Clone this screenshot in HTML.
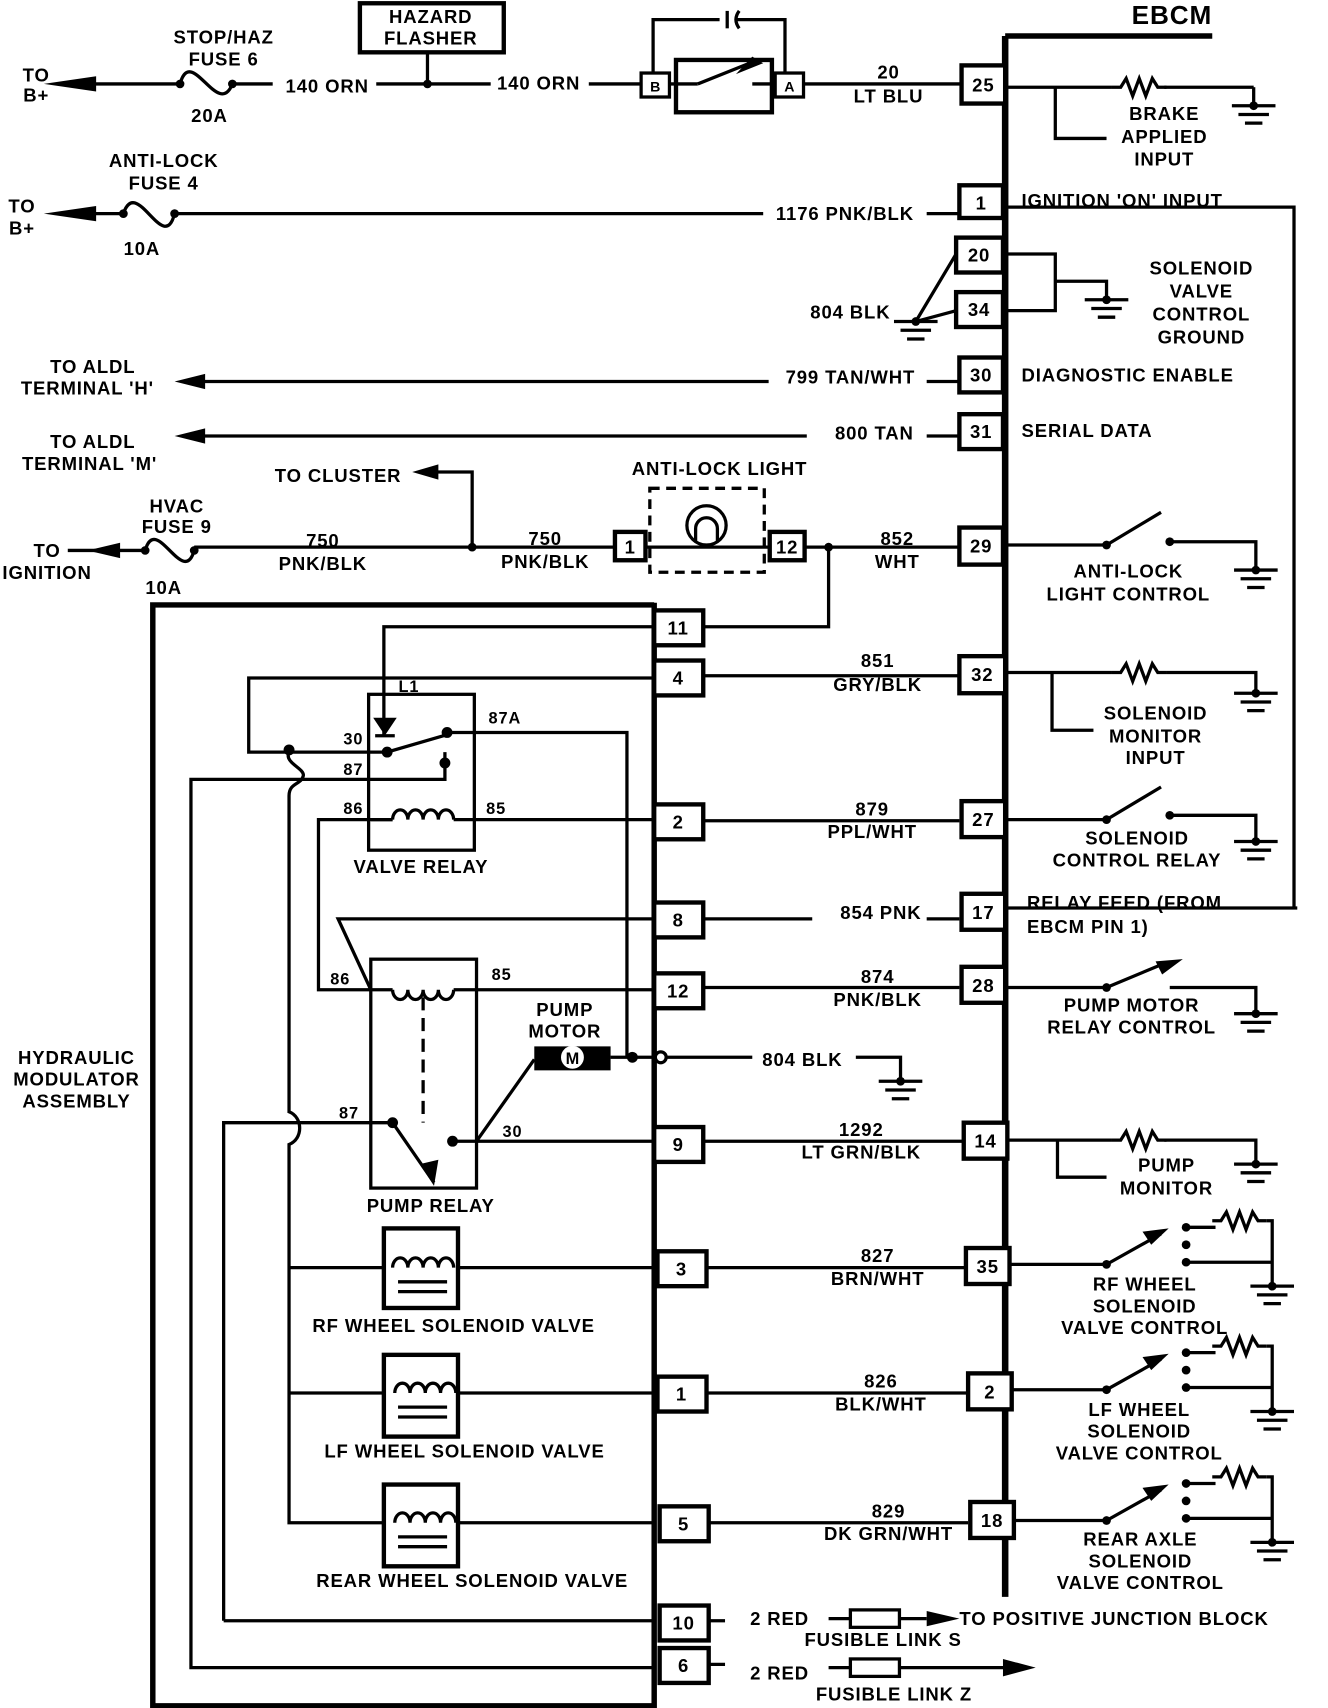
<!DOCTYPE html>
<html><head><meta charset="utf-8"><style>
html,body{margin:0;padding:0;background:#fff}
svg{display:block}
text{font-family:"Liberation Sans",sans-serif;font-weight:bold;font-size:17px;fill:#000;text-anchor:middle;letter-spacing:0.8px}
.l{text-anchor:start}
</style></head><body>
<svg width="1328" height="1708" viewBox="0 0 1218 1567" xmlns="http://www.w3.org/2000/svg">
<defs>
<g id="gnd"><line x1="-20" y1="0" x2="20" y2="0" stroke="#000" stroke-width="3"/><line x1="-14" y1="8" x2="14" y2="8" stroke="#000" stroke-width="3"/><line x1="-8" y1="16" x2="8" y2="16" stroke="#000" stroke-width="3"/><circle cx="0" cy="0" r="4"/></g>
<path id="res" d="M0 0 L8 0 L13 -8 L19 8 L25 -8 L31 8 L37 -8 L42 0 L50 0" fill="none" stroke="#000" stroke-width="3"/>
<path id="coil" d="M0 0 a7 9 0 0 1 14 0 a7 9 0 0 1 14 0 a7 9 0 0 1 14 0 a7 9 0 0 1 14 0" fill="none" stroke="#000" stroke-width="3"/>
</defs>
<g stroke="#000" stroke-width="3" fill="none">
<line x1="922" y1="33" x2="922" y2="1465" stroke-width="6"/>
<line x1="922" y1="33" x2="1112" y2="33" stroke-width="5"/>
<line x1="62" y1="77" x2="165" y2="77"/>
<path d="M165 77 C175 40 200 110 213 77"/>
<line x1="213" y1="77" x2="250" y2="77"/>
<line x1="345" y1="77" x2="450" y2="77"/>
<line x1="392" y1="77" x2="392" y2="48"/>
<rect x="330" y="3" width="132" height="45" stroke-width="4"/>
<line x1="540" y1="77" x2="588" y2="77"/>
<rect x="588" y="67" width="26" height="22" stroke-width="3"/>
<rect x="620" y="55" width="88" height="48" stroke-width="4"/>
<rect x="711" y="67" width="26" height="22" stroke-width="3"/>
<line x1="614" y1="77" x2="640" y2="77"/><line x1="640" y1="77" x2="690" y2="57"/><line x1="690" y1="77" x2="711" y2="77"/>
<path d="M599 67 V18 H660 M676 18 H720 V67"/>
<line x1="667" y1="10" x2="667" y2="26"/><path d="M678 10 Q672 18 678 26"/>
<line x1="737" y1="77" x2="882" y2="77"/>
<line x1="922" y1="80" x2="1020" y2="80"/><line x1="1068" y1="80" x2="1150" y2="80"/><line x1="1150" y1="80" x2="1150" y2="97"/>
<path d="M968 80 V127 H1015"/>
<line x1="62" y1="196" x2="113" y2="196"/>
<path d="M113 196 C125 160 150 235 160 196"/>
<line x1="160" y1="196" x2="700" y2="196"/>
<line x1="850" y1="196" x2="880" y2="196"/>
<path d="M922 190 H1187 V833"/>
<path d="M920 233 H968 V285 H920"/>
<path d="M968 258 H1015 V275"/>
<path d="M877 233 L840 295 L877 285"/>
<line x1="175" y1="350" x2="705" y2="350"/><line x1="850" y1="350" x2="880" y2="350"/>
<line x1="175" y1="400" x2="740" y2="400"/><line x1="850" y1="400" x2="880" y2="400"/>
<line x1="62" y1="505" x2="133" y2="505"/>
<path d="M133 505 C143 470 168 540 178 505"/>
<line x1="178" y1="502" x2="564" y2="502"/>
<path d="M433 502 V433 H395"/>
<rect x="564" y="488" width="28" height="26" stroke-width="4"/>
<rect x="596" y="448" width="105" height="77" stroke-width="3" stroke-dasharray="9 6"/>
<line x1="592" y1="502" x2="706" y2="502"/>
<circle cx="648" cy="482" r="18"/><path d="M638 497 V485 a10 10 0 0 1 20 0 V497"/>
<rect x="706" y="488" width="32" height="26" stroke-width="4"/>
<line x1="738" y1="502" x2="880" y2="502"/>
<path d="M760 502 V575 H600"/>
<path d="M600 555 H140 V1565 H600 V553" stroke-width="5"/>
<path d="M600 575 H352 V675"/>
<path d="M345 660 h16 l-8 12z" fill="#000"/><line x1="344" y1="675" x2="362" y2="675"/>
<path d="M600 622 H228 V690 H355 L410 674"/>
<path d="M410 672 H575 V970"/>
<rect x="338" y="637" width="97" height="143"/>
<path d="M408 690 V715 H175 V1530 H600"/>
<path d="M340 752 H360 M416 752 H600"/>
<use href="#coil" x="360" y="752"/>
<path d="M360 752 H292 V908 H360"/>
<path d="M600 843 H310 L340 908"/>
<rect x="340" y="880" width="97" height="210"/>
<path d="M360 908 a7 9 0 0 0 14 0 a7 9 0 0 0 14 0 a7 9 0 0 0 14 0 a7 9 0 0 0 14 0"/>
<line x1="416" y1="908" x2="600" y2="908"/>
<line x1="388" y1="915" x2="388" y2="1030" stroke-dasharray="12 7"/>
<path d="M205 1487 V1030 H360 L398 1085"/>
<path d="M415 1047 H600 M437 1047 L490 972"/>
<path d="M560 970 H600"/><circle cx="606" cy="970" r="5"/><line x1="611" y1="970" x2="690" y2="970"/>
<path d="M785 970 H826 V990"/>
<path d="M205 1487 H600"/>
<path d="M265 690 C260 700 280 705 278 712 C276 720 265 718 265 730 V1020 C278 1025 278 1045 265 1050 V1397 H352"/>
<line x1="265" y1="1163" x2="352" y2="1163"/><line x1="420" y1="1163" x2="600" y2="1163"/>
<line x1="265" y1="1278" x2="352" y2="1278"/><line x1="420" y1="1278" x2="600" y2="1278"/>
<line x1="420" y1="1397" x2="600" y2="1397"/>
<rect x="352" y="1127" width="68" height="73" stroke-width="4"/>
<rect x="352" y="1243" width="68" height="75" stroke-width="4"/>
<rect x="352" y="1362" width="68" height="75" stroke-width="4"/>
<line x1="645" y1="620" x2="880" y2="620"/>
<line x1="645" y1="753" x2="880" y2="753"/>
<line x1="645" y1="843" x2="745" y2="843"/><line x1="850" y1="843" x2="880" y2="843"/>
<line x1="645" y1="906" x2="880" y2="906"/>
<line x1="645" y1="1047" x2="884" y2="1047"/>
<line x1="645" y1="1163" x2="886" y2="1163"/>
<line x1="645" y1="1278" x2="888" y2="1278"/>
<line x1="645" y1="1397" x2="888" y2="1397"/>
<line x1="645" y1="1487" x2="665" y2="1487"/><line x1="760" y1="1485" x2="780" y2="1485"/><rect x="780" y="1477" width="45" height="16"/><line x1="825" y1="1485" x2="850" y2="1485"/>
<line x1="645" y1="1527" x2="665" y2="1527"/><line x1="760" y1="1530" x2="780" y2="1530"/><rect x="780" y="1522" width="45" height="16"/><line x1="825" y1="1530" x2="925" y2="1530"/>
<path d="M922 500 H1015 L1065 470 M1073 497 H1152 V523"/>
<path d="M922 617 H1020 M1070 617 H1152 V636 M965 617 V670 H1003"/>
<path d="M922 752 H1015 L1065 722 M1073 748 H1152 V772"/>
<path d="M922 833 H1190"/>
<path d="M922 906 H1015 L1070 883 M1073 906 H1152 V930"/>
<path d="M922 1046 H1020 M1068 1046 H1152 V1068 M970 1046 V1080 H1015"/>
</g>
<g fill="#000">
<path d="M40 77 L88 70 L88 84 Z"/><path d="M40 196 L88 189 L88 203 Z"/><path d="M80 505 L110 498 L110 512 Z"/>
<path d="M160 350 L188 343 L188 357 Z"/><path d="M160 400 L188 393 L188 407 Z"/><path d="M378 433 L402 426 L402 440 Z"/>
<circle cx="165" cy="77" r="4"/><circle cx="213" cy="77" r="4"/><circle cx="392" cy="77" r="4"/>
<circle cx="113" cy="196" r="4"/><circle cx="160" cy="196" r="4"/><circle cx="133" cy="505" r="4"/><circle cx="178" cy="505" r="4"/>
<circle cx="433" cy="502" r="4"/><circle cx="760" cy="502" r="4"/>
<circle cx="265" cy="688" r="5"/><circle cx="355" cy="690" r="5"/><circle cx="410" cy="672" r="5"/><circle cx="408" cy="700" r="5"/>
<circle cx="360" cy="1030" r="5"/><circle cx="415" cy="1047" r="5"/><circle cx="580" cy="970" r="5"/>
<path d="M398 1088 L385 1068 L402 1064 Z"/>
<rect x="490" y="960" width="70" height="22"/>
<path d="M690 52 L675 68 L700 58 Z"/>
<path d="M880 1485 L850 1478 L850 1492 Z"/><path d="M950 1530 L920 1522 L920 1538 Z"/>
<circle cx="1015" cy="500" r="4"/><circle cx="1073" cy="497" r="4"/>
<circle cx="1015" cy="752" r="4"/><circle cx="1073" cy="748" r="4"/>
<circle cx="1015" cy="906" r="4"/><path d="M1085 880 L1060 882 L1066 894 Z"/>
</g>
<circle cx="525" cy="970" r="10" fill="#fff" stroke="#fff"/><text x="525" y="976" style="font-size:15px;letter-spacing:0">M</text>
<use href="#res" x="1020" y="80"/><use href="#res" x="1020" y="617"/><use href="#res" x="1020" y="1046"/>
<use href="#coil" x="360" y="1163"/><use href="#coil" x="362" y="1278"/><use href="#coil" x="362" y="1397"/>
<g stroke="#000" stroke-width="3"><line x1="365" y1="1176" x2="410" y2="1176"/><line x1="365" y1="1185" x2="410" y2="1185"/><line x1="365" y1="1291" x2="410" y2="1291"/><line x1="365" y1="1300" x2="410" y2="1300"/><line x1="365" y1="1410" x2="410" y2="1410"/><line x1="365" y1="1419" x2="410" y2="1419"/></g>
<use href="#gnd" x="1150" y="97"/><use href="#gnd" x="1015" y="275"/><use href="#gnd" x="840" y="295"/>
<use href="#gnd" x="1152" y="523"/><use href="#gnd" x="1152" y="636"/><use href="#gnd" x="1152" y="772"/>
<use href="#gnd" x="1152" y="930"/><use href="#gnd" x="1152" y="1068"/><use href="#gnd" x="826" y="992"/>
<g id="sw3">
<path d="M922 1160 H1015 L1065 1132" stroke="#000" stroke-width="3" fill="none"/>
<path d="M1072 1127 L1048 1130 L1056 1142 Z"/>
<circle cx="1015" cy="1160" r="4"/><circle cx="1088" cy="1126" r="4"/><circle cx="1088" cy="1142" r="4"/><circle cx="1088" cy="1158" r="4"/>
<path d="M1088 1126 H1115" stroke="#000" stroke-width="3"/>
<use href="#res" x="1112" y="1120"/>
<path d="M1162 1120 H1167 V1178 M1088 1158 H1167" stroke="#000" stroke-width="3" fill="none"/>
<use href="#gnd" x="1167" y="1180"/>
</g>
<use href="#sw3" y="115"/><use href="#sw3" y="235"/>
<g stroke="#000" stroke-width="4" fill="#fff">
<rect x="882" y="60" width="40" height="35"/><rect x="880" y="170" width="40" height="30"/><rect x="877" y="218" width="43" height="32"/><rect x="877" y="268" width="43" height="32"/>
<rect x="880" y="328" width="40" height="32"/><rect x="880" y="380" width="40" height="32"/><rect x="880" y="484" width="40" height="34"/>
<rect x="880" y="602" width="42" height="34"/><rect x="882" y="735" width="40" height="33"/><rect x="882" y="820" width="40" height="33"/>
<rect x="882" y="887" width="40" height="33"/><rect x="884" y="1030" width="40" height="33"/><rect x="886" y="1145" width="40" height="33"/>
<rect x="888" y="1260" width="40" height="33"/><rect x="890" y="1378" width="40" height="33"/>
<rect x="600" y="560" width="45" height="32"/><rect x="600" y="606" width="45" height="32"/><rect x="600" y="738" width="45" height="32"/>
<rect x="600" y="828" width="45" height="32"/><rect x="600" y="893" width="45" height="32"/><rect x="600" y="1034" width="45" height="32"/>
<rect x="603" y="1148" width="45" height="32"/><rect x="603" y="1263" width="45" height="32"/><rect x="605" y="1382" width="45" height="32"/>
<rect x="605" y="1473" width="45" height="32"/><rect x="605" y="1512" width="45" height="32"/>
</g>
<g>
<text x="902" y="84">25</text><text x="900" y="192">1</text><text x="898" y="240">20</text><text x="898" y="290">34</text>
<text x="900" y="350">30</text><text x="900" y="402">31</text><text x="900" y="507">29</text><text x="901" y="625">32</text>
<text x="902" y="758">27</text><text x="902" y="843">17</text><text x="902" y="910">28</text><text x="904" y="1053">14</text>
<text x="906" y="1168">35</text><text x="908" y="1283">2</text><text x="910" y="1401">18</text>
<text x="622" y="582">11</text><text x="622" y="628">4</text><text x="622" y="760">2</text><text x="622" y="850">8</text>
<text x="622" y="915">12</text><text x="622" y="1056">9</text><text x="625" y="1170">3</text><text x="625" y="1285">1</text>
<text x="627" y="1404">5</text><text x="627" y="1495">10</text><text x="627" y="1534">6</text>
<text x="601" y="84" style="font-size:13px;letter-spacing:0">B</text><text x="724" y="84" style="font-size:13px;letter-spacing:0">A</text>
<text x="578" y="508">1</text><text x="722" y="508">12</text>

<text x="1075" y="22" style="font-size:24px">EBCM</text>
<text x="33" y="75">TO</text><text x="33" y="93">B+</text>
<text x="205" y="40">STOP/HAZ</text><text x="205" y="60">FUSE 6</text><text x="192" y="112">20A</text>
<text x="300" y="85">140 ORN</text><text x="494" y="82">140 ORN</text>
<text x="395" y="21">HAZARD</text><text x="395" y="41">FLASHER</text>
<text x="815" y="72">20</text><text x="815" y="94">LT BLU</text>
<text x="1068" y="110">BRAKE</text><text x="1068" y="131">APPLIED</text><text x="1068" y="152">INPUT</text>
<text x="150" y="153">ANTI-LOCK</text><text x="150" y="174">FUSE 4</text><text x="130" y="234">10A</text>
<text x="20" y="195">TO</text><text x="20" y="215">B+</text>
<text x="775" y="202">1176 PNK/BLK</text>
<text class="l" x="937" y="190">IGNITION 'ON' INPUT</text>
<text x="1102" y="252">SOLENOID</text><text x="1102" y="273">VALVE</text><text x="1102" y="294">CONTROL</text><text x="1102" y="315">GROUND</text>
<text x="780" y="292">804 BLK</text>
<text x="85" y="342">TO ALDL</text><text x="80" y="362">TERMINAL 'H'</text>
<text x="780" y="352">799 TAN/WHT</text><text class="l" x="937" y="350">DIAGNOSTIC ENABLE</text>
<text x="85" y="411">TO ALDL</text><text x="82" y="431">TERMINAL 'M'</text>
<text x="802" y="403">800 TAN</text><text class="l" x="937" y="401">SERIAL DATA</text>
<text x="310" y="442">TO CLUSTER</text><text x="660" y="436">ANTI-LOCK LIGHT</text>
<text x="162" y="470">HVAC</text><text x="162" y="489">FUSE 9</text><text x="150" y="545">10A</text>
<text x="43" y="511">TO</text><text x="43" y="531">IGNITION</text>
<text x="296" y="502">750</text><text x="296" y="523">PNK/BLK</text><text x="500" y="500">750</text><text x="500" y="521">PNK/BLK</text>
<text x="823" y="500">852</text><text x="823" y="521">WHT</text>
<text x="1035" y="530">ANTI-LOCK</text><text x="1035" y="551">LIGHT CONTROL</text>
<text x="805" y="612">851</text><text x="805" y="634">GRY/BLK</text>
<text x="1060" y="660">SOLENOID</text><text x="1060" y="681">MONITOR</text><text x="1060" y="701">INPUT</text>
<text x="375" y="635" style="font-size:15px">L1</text>
<text x="324" y="683" style="font-size:15px">30</text><text x="463" y="664" style="font-size:15px">87A</text>
<text x="324" y="711" style="font-size:15px">87</text><text x="324" y="747" style="font-size:15px">86</text><text x="455" y="747" style="font-size:15px">85</text>
<text x="386" y="801">VALVE RELAY</text>
<text x="800" y="748">879</text><text x="800" y="769">PPL/WHT</text>
<text x="1043" y="775">SOLENOID</text><text x="1043" y="795">CONTROL RELAY</text>
<text x="808" y="843">854 PNK</text>
<text class="l" x="942" y="834">RELAY FEED (FROM</text><text class="l" x="942" y="856">EBCM PIN 1)</text>
<text x="312" y="903" style="font-size:15px">86</text><text x="460" y="899" style="font-size:15px">85</text>
<text x="805" y="902">874</text><text x="805" y="923">PNK/BLK</text>
<text x="1038" y="928">PUMP MOTOR</text><text x="1038" y="948">RELAY CONTROL</text>
<text x="518" y="932">PUMP</text><text x="518" y="952">MOTOR</text>
<text x="736" y="978">804 BLK</text>
<text x="70" y="976">HYDRAULIC</text><text x="70" y="996">MODULATOR</text><text x="70" y="1016">ASSEMBLY</text>
<text x="320" y="1026" style="font-size:15px">87</text><text x="470" y="1043" style="font-size:15px">30</text>
<text x="395" y="1112">PUMP RELAY</text>
<text x="790" y="1042">1292</text><text x="790" y="1063">LT GRN/BLK</text>
<text x="1070" y="1075">PUMP</text><text x="1070" y="1096">MONITOR</text>
<text x="805" y="1158">827</text><text x="805" y="1179">BRN/WHT</text>
<text x="1050" y="1184">RF WHEEL</text><text x="1050" y="1204">SOLENOID</text><text x="1050" y="1224">VALVE CONTROL</text>
<text x="416" y="1222">RF WHEEL SOLENOID VALVE</text>
<text x="808" y="1273">826</text><text x="808" y="1294">BLK/WHT</text>
<text x="1045" y="1299">LF WHEEL</text><text x="1045" y="1319">SOLENOID</text><text x="1045" y="1339">VALVE CONTROL</text>
<text x="426" y="1337">LF WHEEL SOLENOID VALVE</text>
<text x="815" y="1392">829</text><text x="815" y="1413">DK GRN/WHT</text>
<text x="1046" y="1418">REAR AXLE</text><text x="1046" y="1438">SOLENOID</text><text x="1046" y="1458">VALVE CONTROL</text>
<text x="433" y="1456">REAR WHEEL SOLENOID VALVE</text>
<text x="715" y="1491">2 RED</text><text x="810" y="1510">FUSIBLE LINK S</text>
<text class="l" x="880" y="1491">TO  POSITIVE JUNCTION BLOCK</text>
<text x="715" y="1541">2 RED</text><text x="820" y="1560">FUSIBLE LINK Z</text>
</g>
</svg>
</body></html>
